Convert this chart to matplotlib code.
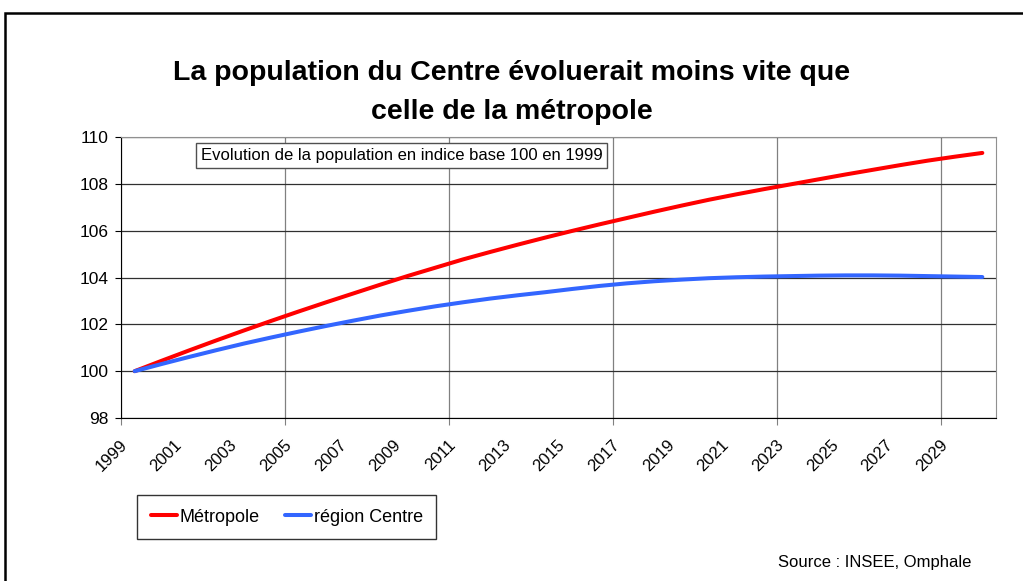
import matplotlib.pyplot as plt
import matplotlib.patches as patches
import matplotlib.transforms as mtransforms
import numpy as np

plt.rcParams['font.family'] = ['Liberation Sans', 'DejaVu Sans']

years = list(range(1999, 2031))
metropole = [100.0, 100.45, 100.89, 101.32, 101.74, 102.15, 102.55, 102.94, 103.32, 103.7,
             104.07, 104.42, 104.77, 105.09, 105.4, 105.7, 105.99, 106.27, 106.54, 106.81,
             107.07, 107.32, 107.55, 107.77, 107.98, 108.19, 108.4, 108.6, 108.8, 108.99,
             109.16, 109.32]
centre = [100.0, 100.31, 100.61, 100.9, 101.18, 101.44, 101.69, 101.93, 102.16, 102.38,
          102.58, 102.77, 102.94, 103.1, 103.24, 103.37, 103.51, 103.64, 103.75, 103.84,
          103.91, 103.97, 104.01, 104.04, 104.06, 104.08, 104.09, 104.09, 104.08, 104.06,
          104.04, 104.02]
yticks = [98, 100, 102, 104, 106, 108, 110]


def main():
    fig = plt.figure(figsize=(10.23, 5.81), dpi=100)
    ax = fig.add_axes([121 / 1023, 1 - 418 / 581, 875 / 1023, 281 / 581])

    x = np.arange(len(years))
    ax.plot(x, metropole, color='#ff0000', lw=2.9, label='Métropole', solid_capstyle='round')
    ax.plot(x, centre, color='#3366ff', lw=2.9, label='région Centre', solid_capstyle='round')

    ax.set_xlim(-0.5, len(years) - 0.5)
    ax.set_ylim(98, 110)
    ax.set_yticks(yticks)
    ax.tick_params(axis='y', labelsize=12.5, length=4, pad=5, direction='out', color='black')

    # gridlines every 6 categories at the category boundaries
    ax.set_xticks(np.arange(-0.5, len(years), 6))
    ax.set_xticklabels([])
    ax.tick_params(axis='x', which='major', length=5, color='#808080')
    ax.set_xticks(x[::2], minor=True)
    ax.set_xticklabels([str(y) for y in years[::2]], minor=True, rotation=45,
                       ha='right', va='top', rotation_mode='anchor', fontsize=12)
    ax.tick_params(axis='x', which='minor', length=0, pad=14)
    shift = mtransforms.ScaledTranslation(-15 / 100, 0, fig.dpi_scale_trans)
    for lab in ax.get_xticklabels(minor=True):
        lab.set_transform(lab.get_transform() + shift)

    ax.grid(axis='y', color='#303030', lw=0.9)
    ax.grid(axis='x', which='major', color='#808080', lw=0.9)
    ax.set_axisbelow(True)
    for s in ['top', 'right']:
        ax.spines[s].set_color('#909090')
    for s in ['left', 'bottom']:
        ax.spines[s].set_color('black')

    ax.text(0.091, 0.935, 'Evolution de la population en indice base 100 en 1999',
            transform=ax.transAxes, fontsize=12, va='center', ha='left',
            bbox=dict(boxstyle='square,pad=0.3', fc='white', ec='#505050', lw=1))

    fig.text(0.5, 1 - 73 / 581, 'La population du Centre évoluerait moins vite que',
             ha='center', va='center', fontsize=20.5, fontweight='bold')
    fig.text(0.5, 1 - 112 / 581, 'celle de la métropole',
             ha='center', va='center', fontsize=20.5, fontweight='bold')

    leg = fig.legend(loc='center left', bbox_to_anchor=(137 / 1023, 1 - 517 / 581), ncol=2,
                     fontsize=13, frameon=True, fancybox=False, edgecolor='black',
                     handlelength=1.45, handletextpad=0.15, columnspacing=1.4, borderpad=0.75,
                     borderaxespad=0)
    leg.get_frame().set_linewidth(1)

    fig.text(971 / 1023, 1 - 563 / 581, 'Source : INSEE, Omphale', ha='right', va='center',
             fontsize=12)

    frame = patches.Rectangle((5 / 1023, -0.1), 1.2, 1 - 13 / 581 + 0.1, transform=fig.transFigure,
                              fill=False, ec='black', lw=1.8)
    fig.patches.append(frame)

    plt.savefig('out.png', dpi=100)


if __name__ == '__main__':
    main()
